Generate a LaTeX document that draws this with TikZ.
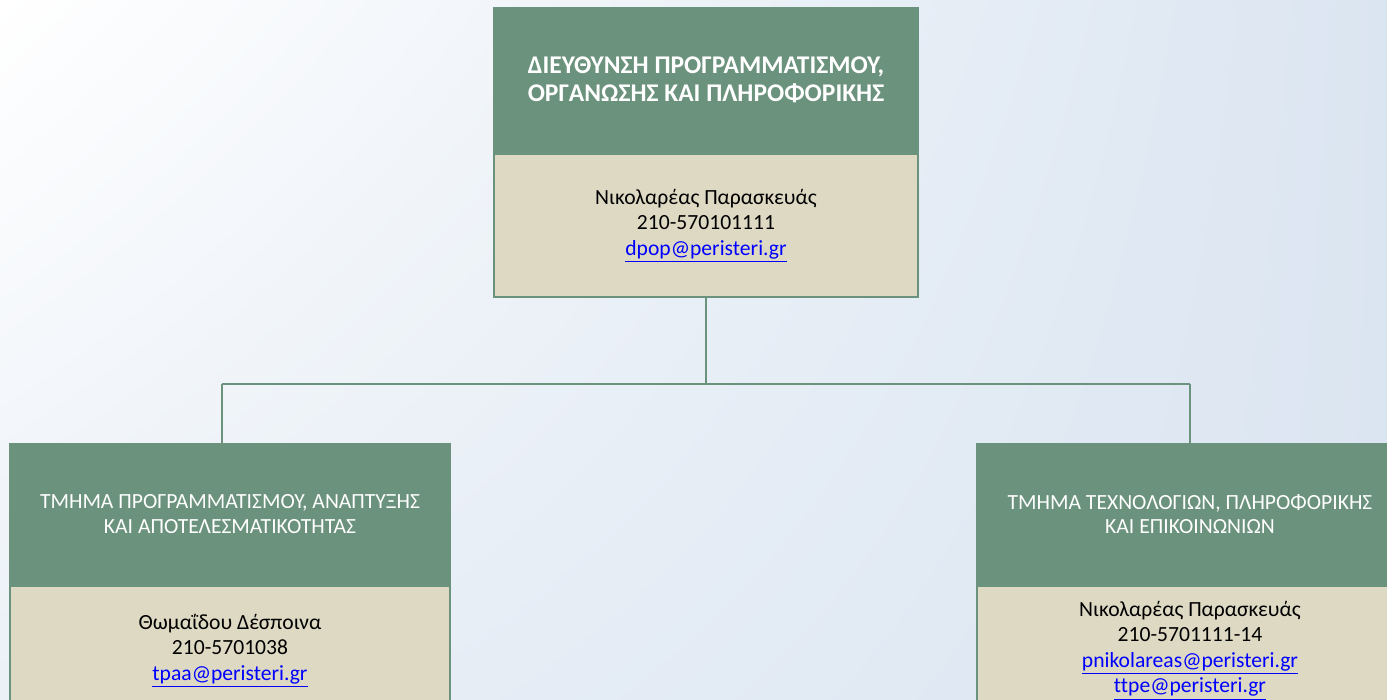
\documentclass[tikz,border=0pt]{standalone}
\usepackage{fontspec}
\setmainfont[Ligatures=NoCommon]{Carlito}
\usetikzlibrary{positioning,shadings}
\definecolor{headgreen}{RGB}{107,146,124}
\definecolor{bodytan}{RGB}{221,217,195}
\definecolor{bgblue}{RGB}{219,229,241}
\definecolor{linkblue}{RGB}{0,0,255}
\tikzstyle{head}=[rectangle,draw=headgreen,fill=headgreen,line width=1pt,text=white,align=center,inner sep=0pt,font=\fontsize{12.3}{14}\selectfont]
\tikzstyle{body}=[rectangle,draw=headgreen,fill=bodytan,line width=1pt,text=black,align=center,inner sep=0pt,font=\fontsize{12.3}{14.5}\selectfont]
\tikzstyle{wire}=[draw=headgreen,line width=1.1pt]
\newcommand{\mail}[1]{\textcolor{linkblue}{\underline{#1}}}

\begin{document}
\begin{tikzpicture}[x=0.02cm,y=-0.02cm]
\useasboundingbox (0,0) rectangle (1387,700);
\clip (0,0) rectangle (1387,700);
\shade[upper left=white,upper right=bgblue,lower left=bgblue!55,lower right=bgblue] (0,0) rectangle (1387,700);
% top box
\node[head,font=\fontsize{14.5}{16}\selectfont\bfseries,minimum width=8.48cm,minimum height=2.9cm] (dirhead) at (706,80) {ΔΙΕΥΘΥΝΣΗ ΠΡΟΓΡΑΜΜΑΤΙΣΜΟΥ,\\ΟΡΓΑΝΩΣΗΣ ΚΑΙ ΠΛΗΡΟΦΟΡΙΚΗΣ};
\node[body,minimum width=8.48cm,minimum height=2.86cm,below=0pt of dirhead] (dirbody) {Νικολαρέας Παρασκευάς\\210-570101111\\\mail{dpop@peristeri.gr}};
% left box
\node[head,minimum width=8.8cm,minimum height=2.8cm] (lefthead) at (230,514) {ΤΜΗΜΑ ΠΡΟΓΡΑΜΜΑΤΙΣΜΟΥ, ΑΝΑΠΤΥΞΗΣ\\ΚΑΙ ΑΠΟΤΕΛΕΣΜΑΤΙΚΟΤΗΤΑΣ};
\node[body,minimum width=8.8cm,minimum height=2.6cm,below=0pt of lefthead] (leftbody) {Θωμαΐδου Δέσποινα\\210-5701038\\\mail{tpaa@peristeri.gr}};
% right box
\node[head,minimum width=8.52cm,minimum height=2.8cm] (righthead) at (1190,514) {ΤΜΗΜΑ ΤΕΧΝΟΛΟΓΙΩΝ, ΠΛΗΡΟΦΟΡΙΚΗΣ\\ΚΑΙ ΕΠΙΚΟΙΝΩΝΙΩΝ};
\node[body,minimum width=8.52cm,minimum height=2.6cm,below=0pt of righthead] (rightbody) {Νικολαρέας Παρασκευάς\\210-5701111-14\\\mail{pnikolareas@peristeri.gr}\\\mail{ttpe@peristeri.gr}};
% connectors
\coordinate (split) at (706,384);
\coordinate (lsplit) at (222,384);
\coordinate (rsplit) at (1190,384);
\draw[wire] (dirbody.south) -- (split);
\draw[wire] (lsplit) -- (rsplit);
\draw[wire] (lsplit) -- (lsplit |- lefthead.north);
\draw[wire] (rsplit) -- (righthead.north);
\end{tikzpicture}
\end{document}
